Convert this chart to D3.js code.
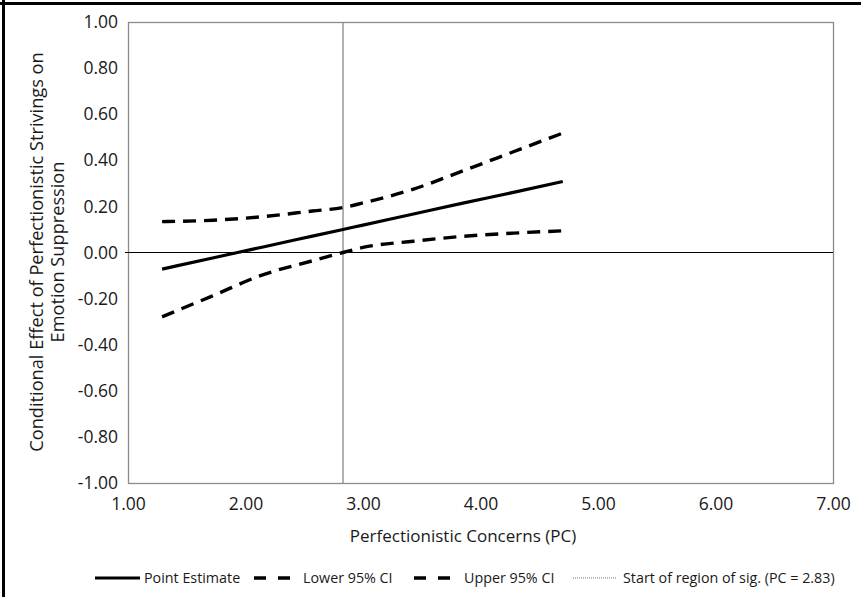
<!DOCTYPE html>
<html>
<head>
<meta charset="utf-8">
<script src="https://cdn.jsdelivr.net/npm/d3@7"></script>
<style>
  body { margin: 0; background: #fff; }
  svg { display: block; font-family: "Open Sans", sans-serif; }
</style>
</head>
<body>
<svg id="chart" width="861" height="597"></svg>
<script>
// values
const pcValues = [1.29, 1.72, 2.14, 2.57, 2.83, 3.00, 3.43, 3.85, 4.28, 4.70];
const pointEstimate = [-0.072, -0.024, 0.023, 0.071, 0.100, 0.119, 0.167, 0.214, 0.261, 0.308];
const lowerCI = [-0.279, -0.188, -0.098, -0.036, 0.000, 0.022, 0.049, 0.070, 0.084, 0.094];
const upperCI = [0.134, 0.140, 0.155, 0.180, 0.195, 0.215, 0.275, 0.354, 0.437, 0.518];
const jnPoint = 2.83;

const xTicks = [1, 2, 3, 4, 5, 6, 7];
const yTicks = [-1, -0.8, -0.6, -0.4, -0.2, 0, 0.2, 0.4, 0.6, 0.8, 1];

const xTitle = "Perfectionistic Concerns (PC)";
const yTitle = ["Conditional Effect of Perfectionistic Strivings on", "Emotion Suppression"];
const legendItems = [
    { label: "Point Estimate", dash: null, width: 3, color: "#000" },
    { label: "Lower 95% CI", dash: "12,12", width: 3.5, color: "#000" },
    { label: "Upper 95% CI", dash: "12,12", width: 3.5, color: "#000" },
    { label: "Start of region of sig. (PC = 2.83)", dash: "1,1", width: 1, color: "#777" },
];

let svg = d3.select("#chart");

let pLeft = 128, pRight = 833, pTop = 22, pBottom = 483;

let scX = d3.scaleLinear().domain([1, 7]).range([pLeft, pRight]);
let scY = d3.scaleLinear().domain([-1, 1]).range([pBottom, pTop]);

let fmt = (d) => d.toFixed(2);

// outer frame (top and left edges visible)
svg.append("line").attr("x1", 0).attr("x2", 861).attr("y1", 3.5).attr("y2", 3.5)
    .attr("stroke", "#000").attr("stroke-width", 3);
svg.append("line").attr("x1", 3.5).attr("x2", 3.5).attr("y1", 0).attr("y2", 597)
    .attr("stroke", "#000").attr("stroke-width", 3);

// plot area border
svg.append("rect")
    .attr("x", pLeft + 0.5).attr("y", pTop + 0.5)
    .attr("width", pRight - pLeft).attr("height", pBottom - pTop)
    .attr("fill", "none").attr("stroke", "#8c8c8c").attr("stroke-width", 1.3);

// axes
let yAx = svg.append("g")
    .attr("transform", "translate(" + (pLeft - 10) + ",0)")
    .call(d3.axisLeft(scY).tickValues(yTicks).tickFormat(fmt).tickSize(0));
yAx.select(".domain").remove();
yAx.selectAll("text").attr("font-size", 17.5).attr("font-family", "Open Sans")
    .attr("fill", "#1a1a1a").attr("x", 0);

let xAx = svg.append("g")
    .attr("transform", "translate(0," + (pBottom + 12) + ")")
    .call(d3.axisBottom(scX).tickValues(xTicks).tickFormat(fmt).tickSize(0));
xAx.select(".domain").remove();
xAx.selectAll("text").attr("font-size", 17.5).attr("font-family", "Open Sans")
    .attr("fill", "#1a1a1a");

// zero line
svg.append("line")
    .attr("x1", pLeft - 3).attr("x2", pRight)
    .attr("y1", scY(0)).attr("y2", scY(0))
    .attr("stroke", "#000").attr("stroke-width", 1);

// start of region of significance
svg.append("line")
    .attr("x1", scX(jnPoint)).attr("x2", scX(jnPoint))
    .attr("y1", pTop).attr("y2", pBottom)
    .attr("stroke", "#888").attr("stroke-width", 1.3);

// series
let lnMkr = (vals) => d3.line()
    .x((d, i) => scX(pcValues[i]))
    .y((d) => scY(d))
    .curve(d3.curveMonotoneX)(vals);

svg.append("path").attr("d", lnMkr(lowerCI))
    .attr("fill", "none").attr("stroke", "#000").attr("stroke-width", 3.4)
    .attr("stroke-dasharray", "13,8");
svg.append("path").attr("d", lnMkr(upperCI))
    .attr("fill", "none").attr("stroke", "#000").attr("stroke-width", 3.4)
    .attr("stroke-dasharray", "13,8");
svg.append("path").attr("d", lnMkr(pointEstimate))
    .attr("fill", "none").attr("stroke", "#000").attr("stroke-width", 3.2);

// axis titles
svg.append("text")
    .attr("x", 463).attr("y", 542)
    .attr("text-anchor", "middle").attr("font-size", 17).attr("fill", "#1a1a1a")
    .text(xTitle);

let yt = svg.append("text")
    .attr("transform", "translate(43," + 252 + ") rotate(-90)")
    .attr("text-anchor", "middle").attr("font-size", 18.2).attr("fill", "#1a1a1a");
yTitle.forEach((t, i) => {
    yt.append("tspan").attr("x", 0).attr("dy", i === 0 ? 0 : 21).text(t);
});

// legend
let legX = [95, 254, 414, 573];
let legLen = [45, 37, 38, 43];
let legend = svg.append("g").attr("transform", "translate(0,578)");
legendItems.forEach((d, i) => {
    let g = legend.append("g").attr("transform", "translate(" + legX[i] + ",0)");
    g.append("line").attr("x1", 0).attr("x2", legLen[i]).attr("y1", 0).attr("y2", 0)
        .attr("stroke", d.color).attr("stroke-width", d.width)
        .attr("stroke-dasharray", d.dash);
    g.append("text").attr("x", legLen[i] + (i === 0 ? 4 : (i === 3 ? 7 : 12))).attr("y", 0).attr("dy", "0.35em")
        .attr("font-size", 14.3).attr("fill", "#1a1a1a").text(d.label);
});
</script>
</body>
</html>
